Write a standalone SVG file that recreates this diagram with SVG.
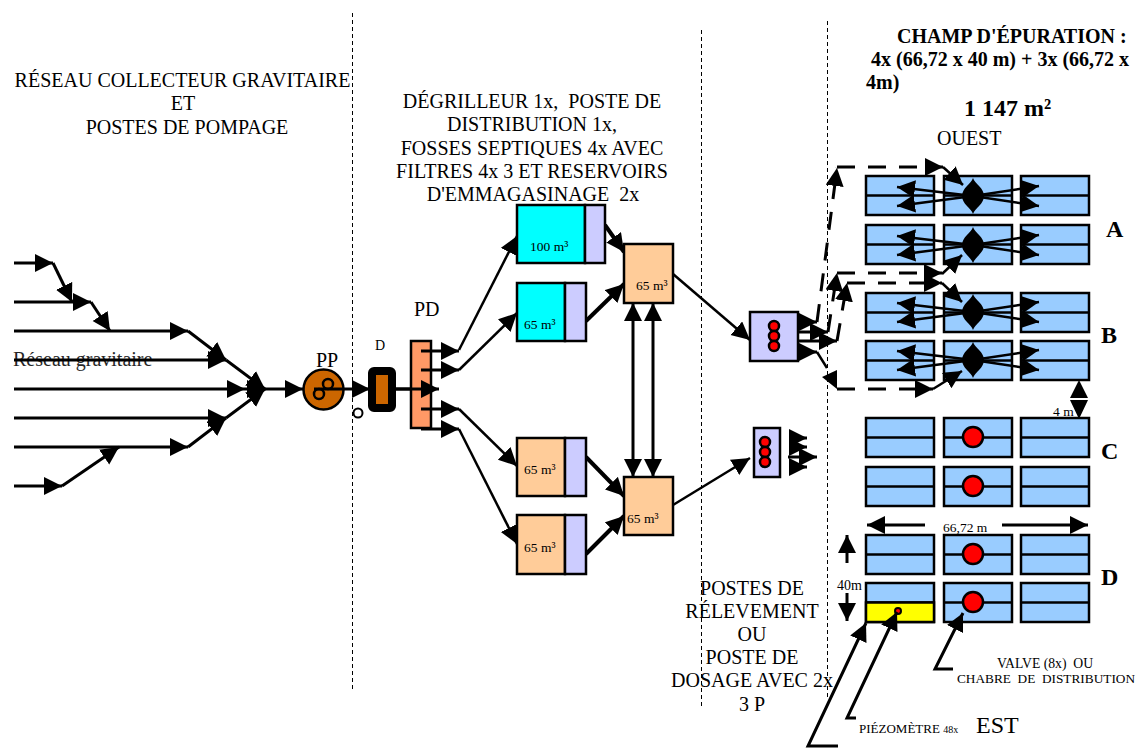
<svg xmlns="http://www.w3.org/2000/svg" width="1137" height="748" viewBox="0 0 1137 748">
<style>
text{font-family:"Liberation Serif","Times New Roman",serif;fill:#000}
.t20{font-size:20px}.t13{font-size:13.500px}.c{text-anchor:middle}
.b{font-weight:bold}
.div{fill:none;stroke:#000;stroke-width:1;stroke-dasharray:4 3}
.ln{fill:none;stroke:#000;stroke-width:3}
.thin{stroke-width:2.5}
.thick{stroke-width:4}
.dash{fill:none;stroke:#000;stroke-width:3;stroke-dasharray:18 13}
.box{stroke:#000;stroke-width:2.5}
.field{fill:#99CCFF;stroke:#000;stroke-width:2.5}
.cy{fill:#00FFFF}.or{fill:#FFCC99}.pu{fill:#CCCCFF}
.red{fill:#FF0000;stroke:#000;stroke-width:2.5}
</style>
<defs>
<marker id="a" markerUnits="userSpaceOnUse" markerWidth="20" markerHeight="20" refX="18" refY="9" orient="auto-start-reverse"><path d="M0 0L18 9L0 18Z" fill="#000"/></marker>
<g id="plot"><rect class="field" width="68" height="39"/><path d="M0 19.500H68" stroke="#000" stroke-width="2.500"/></g>
<g id="vf"><path d="M0 -18C2 -12 11 -8 11 0C11 8 2 12 0 18C-2 12 -11 8 -11 0C-11 -8 -2 -12 0 -18Z" fill="#000"/>
<path class="ln thin" marker-end="url(#a)" d="M0 0L-76 -9"/><path class="ln thin" marker-end="url(#a)" d="M0 0L-76 10"/><path class="ln thin" marker-end="url(#a)" d="M0 0L66 -10"/><path class="ln thin" marker-end="url(#a)" d="M0 0L66 10"/></g>
</defs>

<g id="dividers">
<path class="div" d="M352.500 13V692"/><path class="div" d="M701.500 30V708"/><path class="div" d="M827.500 21V700"/>
</g>

<g id="titles">
<text class="t20 c" x="182.500" y="87">RÉSEAU COLLECTEUR GRAVITAIRE</text>
<text class="t20 c" x="183" y="110">ET</text>
<text class="t20 c" x="187" y="134">POSTES DE POMPAGE</text>
<text class="t20 c" x="532" y="108" xml:space="preserve">DÉGRILLEUR 1x,  POSTE DE</text>
<text class="t20 c" x="532" y="131">DISTRIBUTION 1x,</text>
<text class="t20 c" x="532" y="155">FOSSES SEPTIQUES 4x AVEC</text>
<text class="t20 c" x="532" y="178">FILTRES 4x 3 ET RESERVOIRS</text>
<text class="t20 c" x="533" y="201" xml:space="preserve">D'EMMAGASINAGE  2x</text>
<text class="t20 c" x="752" y="595">POSTES DE</text>
<text class="t20 c" x="752" y="618">RÉLEVEMENT</text>
<text class="t20 c" x="752" y="641">OU</text>
<text class="t20 c" x="752" y="664">POSTE DE</text>
<text class="t20 c" x="752" y="687">DOSAGE AVEC 2x</text>
<text class="t20 c" x="752" y="711">3 P</text>
<text class="b" x="897" y="43" font-size="20">CHAMP D'ÉPURATION :</text>
<text class="b" x="871" y="66" font-size="20">4x (66,72 x 40 m) + 3x (66,72 x</text>
<text class="b" x="866" y="89" font-size="20">4m)</text>
<text class="b" x="964" y="116" font-size="24">1 147 m²</text>
<text class="t20" x="937" y="145">OUEST</text>
<text class="b" x="1106" y="237" font-size="24">A</text>
<text class="b" x="1101" y="343" font-size="24">B</text>
<text class="b" x="1101" y="459" font-size="24">C</text>
<text class="b" x="1101" y="585" font-size="24">D</text>
<text x="1045" y="668" font-size="13.700" class="c" xml:space="preserve">VALVE (8x)  OU</text>
<text x="1046" y="683" font-size="13.300" class="c" xml:space="preserve">CHABRE  DE  DISTRIBUTION</text>
<text x="859" y="733" font-size="13">PIÉZOMÈTRE <tspan font-size="10">48x</tspan></text>
<text x="976" y="733" font-size="24">EST</text>
</g>

<g id="row-A">
<use href="#plot" x="866" y="176"/><use href="#plot" x="944" y="176"/><use href="#plot" x="1021" y="176"/>
<use href="#plot" x="866" y="225"/><use href="#plot" x="944" y="225"/><use href="#plot" x="1021" y="225"/>
<use href="#vf" x="973" y="196"/><use href="#vf" x="973" y="245"/></g>
<g id="row-B">
<use href="#plot" x="866" y="293"/><use href="#plot" x="944" y="293"/><use href="#plot" x="1021" y="293"/>
<use href="#plot" x="866" y="341"/><use href="#plot" x="944" y="341"/><use href="#plot" x="1021" y="341"/>
<use href="#vf" x="973" y="312"/><use href="#vf" x="973" y="360"/></g>
<g id="row-C">
<use href="#plot" x="866" y="418"/><use href="#plot" x="944" y="418"/><use href="#plot" x="1021" y="418"/>
<use href="#plot" x="866" y="467"/><use href="#plot" x="944" y="467"/><use href="#plot" x="1021" y="467"/>
<circle class="red" cx="973" cy="437" r="10"/><circle class="red" cx="973" cy="486" r="10"/></g>
<g id="row-D">
<use href="#plot" x="866" y="535"/><use href="#plot" x="944" y="535"/><use href="#plot" x="1021" y="535"/>
<use href="#plot" x="866" y="583"/><use href="#plot" x="944" y="583"/><use href="#plot" x="1021" y="583"/>
<rect x="866" y="602.500" width="68" height="19.500" fill="#FFFF00" stroke="#000" stroke-width="2.500"/>
<circle class="red" cx="973" cy="554" r="10"/><circle class="red" cx="973" cy="602" r="10"/>
<circle cx="898" cy="611" r="3" fill="#f00" stroke="#000" stroke-width="2"/></g>

<g id="PD"><rect x="411" y="341" width="20" height="87" fill="#FF9966" class="box"/>
<text class="t20" x="414" y="316">PD</text></g>

<g id="connectors">
<path class="ln" d="M14 263H53" marker-end="url(#a)"/>
<path class="ln" d="M53 263L72 302" marker-end="url(#a)"/>
<path class="ln" d="M14 302H91" marker-end="url(#a)"/>
<path class="ln" d="M91 302L110 331" marker-end="url(#a)"/>
<path class="ln" d="M14 331H188" marker-end="url(#a)"/>
<path class="ln" d="M188 331L226 360" marker-end="url(#a)"/>
<path class="ln" d="M14 360H226" marker-end="url(#a)"/>
<path class="ln" d="M226 360L265 389" marker-end="url(#a)"/>
<path class="ln" d="M14 389H245" marker-end="url(#a)"/>
<path class="ln" d="M245 389H265" marker-end="url(#a)"/>
<path class="ln" d="M14 418H226" marker-end="url(#a)"/>
<path class="ln" d="M226 418L265 389" marker-end="url(#a)"/>
<path class="ln" d="M14 447H188" marker-end="url(#a)"/>
<path class="ln" d="M188 447L226 418" marker-end="url(#a)"/>
<path class="ln" d="M14 486H62" marker-end="url(#a)"/>
<path class="ln" d="M62 486L119 447" marker-end="url(#a)"/>
<path class="ln" d="M265 389H303" marker-end="url(#a)"/>
<path class="ln" d="M395 389H439" marker-end="url(#a)"/>
<path class="ln" d="M421 351H459" marker-end="url(#a)"/>
<path class="ln" d="M421 370H459" marker-end="url(#a)"/>
<path class="ln" d="M421 409H459" marker-end="url(#a)"/>
<path class="ln" d="M421 429H459" marker-end="url(#a)"/>
<path class="ln thin" d="M459 350L517 236" marker-end="url(#a)"/>
<path class="ln thin" d="M459 370L517 313" marker-end="url(#a)"/>
<path class="ln thin" d="M459 409L517 466" marker-end="url(#a)"/>
<path class="ln thin" d="M459 429L517 544" marker-end="url(#a)"/>
<path class="ln thick" d="M605 225L624 252" marker-end="url(#a)"/>
<path class="ln thick" d="M586 321L624 284" marker-end="url(#a)"/>
<path class="ln thick" d="M586 457L624 496" marker-end="url(#a)"/>
<path class="ln thick" d="M586 554L624 516" marker-end="url(#a)"/>
<path class="ln" d="M633 303V477" marker-start="url(#a)" marker-end="url(#a)"/>
<path class="ln" d="M653 303V477" marker-start="url(#a)" marker-end="url(#a)"/>
<path class="ln thin" d="M673 274L750 340" marker-end="url(#a)"/>
<path class="ln thin" d="M673 505L750 458" marker-end="url(#a)"/>
<path class="ln" d="M790 322H817" marker-end="url(#a)"/>
<path class="ln" d="M790 332H828" marker-end="url(#a)"/>
<path class="ln" d="M790 341H837" marker-end="url(#a)"/>
<path class="ln" d="M790 352H817" marker-end="url(#a)"/>
<path class="dash" d="M817 322L837 168" marker-end="url(#a)"/>
<path class="dash" d="M837 167H943" marker-end="url(#a)"/>
<path class="ln thin" d="M943 167L963 185" marker-end="url(#a)"/>
<path class="dash" d="M828 332L837 273" marker-end="url(#a)"/>
<path class="dash" d="M837 273H942" marker-end="url(#a)"/>
<path class="ln thin" d="M942 274L962 255" marker-end="url(#a)"/>
<path class="dash" d="M837 341L847 283" marker-end="url(#a)"/>
<path class="dash" d="M847 283H942" marker-end="url(#a)"/>
<path class="ln thin" d="M942 283L962 302" marker-end="url(#a)"/>
<path class="ln thin" d="M817 352L827 368"/>
<path d="M822 377L837 370V389Z" fill="#000"/>
<path class="dash" d="M837 389H933" marker-end="url(#a)"/>
<path class="ln thin" d="M933 389L962 371" marker-end="url(#a)"/>
<path class="ln" d="M789 438H807" marker-end="url(#a)"/>
<path class="ln" d="M789 447H807" marker-end="url(#a)"/>
<path class="ln" d="M788 457H817" marker-end="url(#a)"/>
<path class="ln" d="M789 467H807" marker-end="url(#a)"/>
<path d="M1079 380L1088 398H1070Z M1079 419L1070 400H1088Z" fill="#000"/>
<path class="ln" d="M925 525H867" marker-end="url(#a)"/>
<path class="ln" d="M1002 525H1088" marker-end="url(#a)"/>
<path class="ln" d="M847 563V535" marker-end="url(#a)"/>
<path class="ln" d="M847 593V621" marker-end="url(#a)"/>
<path class="ln" d="M838 746H808L866 623" marker-end="url(#a)"/>
<path class="ln" d="M856 718H847L897 612" marker-end="url(#a)"/>
<path class="ln" d="M953 669H935L963 613" marker-end="url(#a)"/>
</g>

<g id="gravity-label"><text class="t20" x="13" y="366" opacity="0.85">Réseau gravitaire</text></g>

<g id="PP"><circle cx="323.500" cy="389.500" r="20" fill="#CC6600" stroke="#000" stroke-width="2.500"/>
<circle cx="328" cy="384" r="5" fill="none" stroke="#000" stroke-width="2.500"/><circle cx="319" cy="394" r="5" fill="none" stroke="#000" stroke-width="2.500"/>
<path class="ln" d="M314 389H370" marker-end="url(#a)"/>
<text class="t20" x="316" y="367">PP</text></g>
<g id="small-circle"><circle cx="358" cy="413" r="4.500" fill="#fff" stroke="#000" stroke-width="2"/></g>
<g id="D"><rect x="372" y="371" width="20" height="37" rx="2" fill="#CC6600" stroke="#000" stroke-width="8"/>
<path class="ln" d="M395 389H412"/>
<text x="375" y="350" font-size="14">D</text></g>

<g id="tank-100"><rect class="box cy" x="517" y="205" width="68" height="58"/><rect class="box pu" x="585" y="205" width="20" height="58"/><text class="t13" x="530" y="251">100 m³</text></g>
<g id="tank-65a"><rect class="box cy" x="517" y="283" width="48" height="58"/><rect class="box pu" x="565" y="283" width="21" height="58"/><text class="t13" x="524" y="329">65 m³</text></g>
<g id="tank-65b"><rect class="box or" x="517" y="438" width="48" height="58"/><rect class="box pu" x="565" y="438" width="21" height="58"/><text class="t13" x="524" y="474">65 m³</text></g>
<g id="tank-65c"><rect class="box or" x="517" y="515" width="48" height="59"/><rect class="box pu" x="565" y="515" width="21" height="59"/><text class="t13" x="524" y="552">65 m³</text></g>
<g id="res-top"><rect class="box or" x="624" y="244" width="49" height="59"/><text class="t13" x="636" y="290">65 m³</text></g>
<g id="res-bottom"><rect class="box or" x="624" y="477" width="49" height="58"/><text class="t13" x="627" y="523">65 m³</text></g>
<g id="pump-1"><rect class="box pu" x="750" y="312" width="48" height="49"/><circle class="red" cx="774" cy="326" r="5"/><circle class="red" cx="774" cy="336" r="5"/><circle class="red" cx="774" cy="346" r="5"/></g>
<g id="pump-2"><rect class="box pu" x="754" y="428" width="26" height="49"/><circle class="red" cx="765" cy="442" r="5"/><circle class="red" cx="765" cy="452" r="5"/><circle class="red" cx="765" cy="462" r="5"/></g>

<g id="dim-labels">
<text x="943" y="532" font-size="13.500">66,72 m</text>
<text x="837" y="590" font-size="14">40m</text>
<text x="1053" y="416" font-size="13.500">4 m</text>
</g>
</svg>
